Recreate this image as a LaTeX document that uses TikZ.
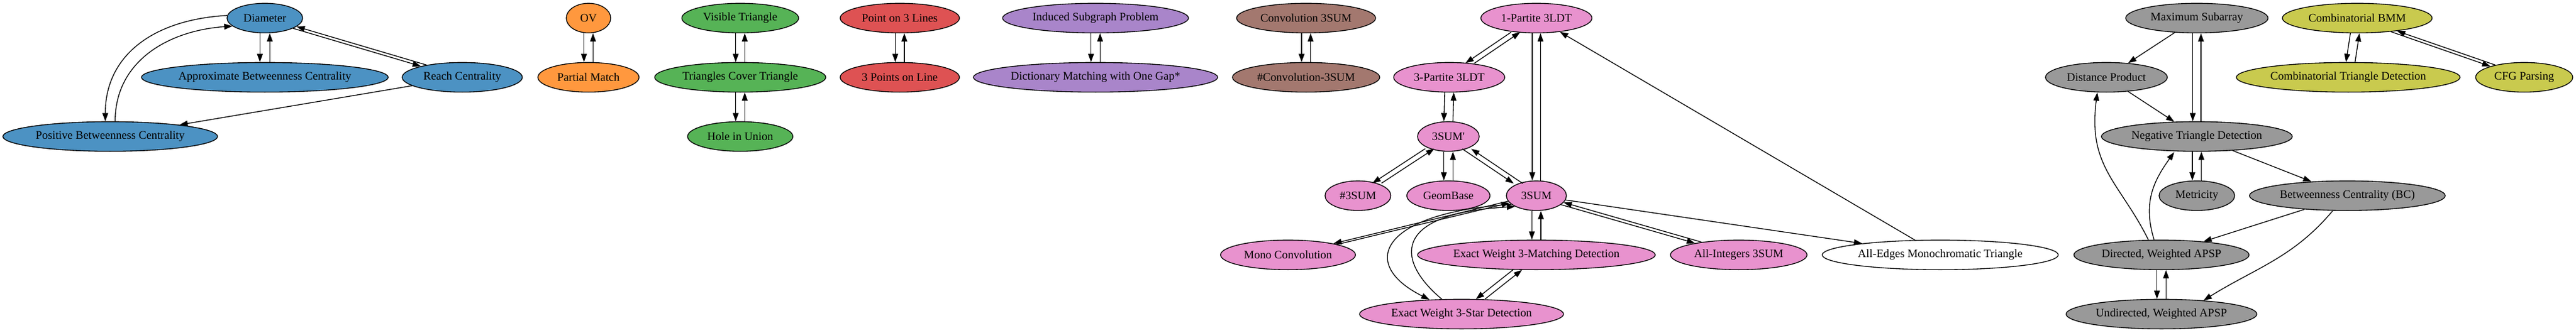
\documentclass[tikz,border=0pt]{standalone}
\usepackage{fontspec}
\setmainfont{Liberation Serif}
\usetikzlibrary{shapes.geometric,arrows.meta,calc}
\definecolor{cblue}{RGB}{76,146,195}
\definecolor{corange}{RGB}{255,152,62}
\definecolor{cgreen}{RGB}{86,179,86}
\definecolor{cred}{RGB}{222,82,83}
\definecolor{cpurple}{RGB}{169,133,202}
\definecolor{cbrown}{RGB}{163,120,111}
\definecolor{cpink}{RGB}{232,146,206}
\definecolor{cgray}{RGB}{153,153,153}
\definecolor{colive}{RGB}{201,202,78}
\tikzset{
  nd/.style={ellipse, draw=black, line width=1pt, minimum height=36pt, inner sep=0pt,
    font=\fontsize{14}{16}\selectfont, text=black},
  edge/.style={line width=1pt, draw=black, -{Triangle[length=10pt,width=7pt]}},
}
% vertical pair: #2 above #3
\newcommand\vpair[3][5.5pt]{%
  \draw[edge] ([xshift=-#1]#2.south) -- ([xshift=-#1]#3.north);
  \draw[edge] ([xshift=#1]#3.north) -- ([xshift=#1]#2.south);
}
% steep diagonal pair: #2 above #3
\newcommand\tpair[3][5.5pt]{%
  \draw[edge,transform canvas={xshift=-#1}] (#2) -- (#3);
  \draw[edge,transform canvas={xshift=#1}] (#3) -- (#2);
}
\begin{document}
\begin{tikzpicture}[x=1pt,y=1pt]
\useasboundingbox (0,0) rectangle (3132,-404.25);
% blue
\node[nd, fill=cblue, minimum width=92pt] (dia) at (322,-22) {Diameter};
\node[nd, fill=cblue, minimum width=300pt] (abc) at (322,-94) {Approximate Betweenness Centrality};
\node[nd, fill=cblue, minimum width=146pt] (reach) at (562,-94) {Reach Centrality};
\node[nd, fill=cblue, minimum width=261pt] (pos) at (134,-166) {Positive Betweenness Centrality};
% orange
\node[nd, fill=corange, minimum width=54pt] (ov) at (715.5,-22) {OV};
\node[nd, fill=corange, minimum width=123pt] (pm) at (715.5,-94) {Partial Match};
% green
\node[nd, fill=cgreen, minimum width=142pt] (vt) at (900,-22) {Visible Triangle};
\node[nd, fill=cgreen, minimum width=208pt] (tct) at (900,-94) {Triangles Cover Triangle};
\node[nd, fill=cgreen, minimum width=128pt] (hole) at (900,-166) {Hole in Union};
% red
\node[nd, fill=cred, minimum width=145pt] (p3l) at (1094,-22) {Point on 3 Lines};
\node[nd, fill=cred, minimum width=145pt] (tpl) at (1094,-94) {3 Points on Line};
% purple
\node[nd, fill=cpurple, minimum width=226pt] (isp) at (1332,-22) {Induced Subgraph Problem};
\node[nd, fill=cpurple, minimum width=297pt] (dm) at (1332,-94) {Dictionary Matching with One Gap*};
% brown
\node[nd, fill=cbrown, minimum width=169pt] (c3) at (1588,-22) {Convolution 3SUM};
\node[nd, fill=cbrown, minimum width=179pt] (nc3) at (1588,-94) {\#Convolution-3SUM};
% pink
\node[nd, fill=cpink, minimum width=135pt] (p1) at (1868,-22) {1-Partite 3LDT};
\node[nd, fill=cpink, minimum width=135pt] (p3) at (1762,-94) {3-Partite 3LDT};
\node[nd, fill=cpink, minimum width=75pt] (sp) at (1761,-166) {3SUM\textquotesingle};
\node[nd, fill=cpink, minimum width=80pt] (h3) at (1651,-238) {\#3SUM};
\node[nd, fill=cpink, minimum width=101pt] (gb) at (1761,-238) {GeomBase};
\node[nd, fill=cpink, minimum width=73pt] (s) at (1868,-238) {3SUM};
\node[nd, fill=cpink, minimum width=164pt] (mono) at (1566,-310) {Mono Convolution};
\node[nd, fill=cpink, minimum width=289pt] (match) at (1868,-310) {Exact Weight 3-Matching Detection};
\node[nd, fill=cpink, minimum width=166pt] (ai) at (2114,-310) {All-Integers 3SUM};
\node[nd, fill=white, minimum width=287pt] (ae) at (2359,-310) {All-Edges Monochromatic Triangle};
\node[nd, fill=cpink, minimum width=248pt] (star) at (1777,-382) {Exact Weight 3-Star Detection};
% gray
\node[nd, fill=cgray, minimum width=173pt] (ms) at (2671,-22) {Maximum Subarray};
\node[nd, fill=cgray, minimum width=148pt] (dp) at (2561,-94) {Distance Product};
\node[nd, fill=cgray, minimum width=232pt] (ntd) at (2671,-166) {Negative Triangle Detection};
\node[nd, fill=cgray, minimum width=92pt] (met) at (2671,-238) {Metricity};
\node[nd, fill=cgray, minimum width=238pt] (bc) at (2854,-238) {Betweenness Centrality (BC)};
\node[nd, fill=cgray, minimum width=213pt] (dapsp) at (2628,-310) {Directed, Weighted APSP};
\node[nd, fill=cgray, minimum width=232pt] (uapsp) at (2628,-382) {Undirected, Weighted APSP};
% olive
\node[nd, fill=colive, minimum width=182pt] (bmm) at (2866,-22) {Combinatorial BMM};
\node[nd, fill=colive, minimum width=272pt] (ctd) at (2855,-94) {Combinatorial Triangle Detection};
\node[nd, fill=colive, minimum width=118pt] (cfg) at (3069,-94) {CFG Parsing};

% ---- edges: blue
\vpair[6pt]{dia}{abc}
\draw[edge] (dia.340.8) -- (reach.165.1);
\draw[edge] (reach.161.3) -- (dia.345.6);
\draw[edge] (dia.176) .. controls +(-90,-5) and +(0,80) .. ([xshift=-6pt]pos.north);
\draw[edge] ([xshift=6pt]pos.north) .. controls +(0,75) and +(-75,-5) .. (dia.194);
\draw[edge] (reach) -- (pos);
% orange, green, red, purple, brown
\vpair{ov}{pm}
\vpair{vt}{tct}
\vpair{tct}{hole}
\vpair{p3l}{tpl}
\vpair{isp}{dm}
\vpair{c3}{nc3}
% pink
\tpair{p1}{p3}
\vpair[5pt]{p1}{s}
\vpair{p3}{sp}
\tpair{sp}{h3}
\vpair{sp}{gb}
\tpair{sp}{s}
\draw[edge] (s.191.4) -- (mono.14.8);
\draw[edge] (mono.12.2) -- (s.195.6);
\vpair{s}{match}
\draw[edge] (s.340.9) -- (ai.165.3);
\draw[edge] (ai.161.9) -- (s.346.3);
\draw[edge] (s) -- (ae);
\draw[edge] (ae) -- (p1);
\draw[edge] (s.199) .. controls +(-158,-10) and +(-88,44) .. ([shift={(-39pt,-0.9pt)}]star.north);
\draw[edge] ([shift={(-24pt,-0.3pt)}]star.north) .. controls +(-53,44) and +(-155,-9) .. (s.207);
\tpair{match}{star}
% gray
\draw[edge] (ms) -- (dp);
\vpair[5pt]{ms}{ntd}
\draw[edge] (dp) -- (ntd);
\vpair{ntd}{met}
\draw[edge] (ntd) -- (bc);
\draw[edge] (bc) -- (dapsp);
\draw[edge] ([xshift=-18pt]bc.south) to[out=-130, in=32] (uapsp.18.4);
\draw[edge] ([xshift=-16pt]dapsp.north) .. controls +(-35,70) and +(-12,-90) .. ([xshift=-11pt]dp.south);
\draw[edge] ([xshift=-9pt]dapsp.north) .. controls +(-14,45) and +(-25,-35) .. ([shift={(-27.5pt,-0.5pt)}]ntd.south);
\vpair{dapsp}{uapsp}
% olive
\tpair{bmm}{ctd}
\draw[edge] (bmm.338) -- (cfg.162.9);
\draw[edge] (cfg.157.7) -- (bmm.342.5);
\end{tikzpicture}
\end{document}
